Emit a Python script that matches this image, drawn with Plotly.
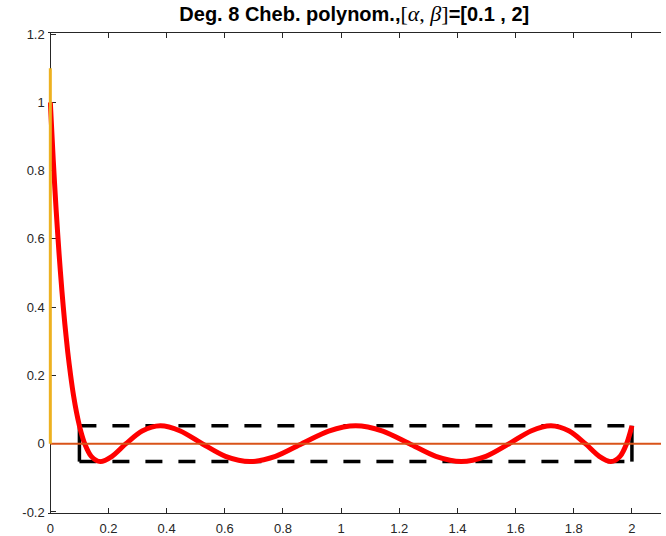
import plotly.graph_objects as go

# Curve samples (steep part, then oscillating part)
curve_x = [0.0, 0.01, 0.02, 0.03, 0.04, 0.05, 0.06, 0.07, 0.08, 0.09,
           0.1, 0.1046, 0.1183, 0.1409, 0.1723, 0.2122, 0.2601, 0.3156,
           0.3782, 0.4473, 0.5222, 0.6022, 0.6865, 0.7742, 0.8647, 0.9569,
           1.05, 1.1431, 1.2353, 1.3258, 1.4135, 1.4978, 1.5778, 1.6527,
           1.7218, 1.7844, 1.8399, 1.8878, 1.9277, 1.9591, 1.9817, 1.9954, 2.0]
curve_y = [1.0, 0.832, 0.685, 0.557, 0.446, 0.350, 0.268, 0.199, 0.140, 0.092,
           0.0525, 0.0371, 0.0, -0.0371, -0.0525, -0.0371, 0.0, 0.0371,
           0.0525, 0.0371, 0.0, -0.0371, -0.0525, -0.0371, 0.0, 0.0371,
           0.0525, 0.0371, 0.0, -0.0371, -0.0525, -0.0371, 0.0, 0.0371,
           0.0525, 0.0371, 0.0, -0.0371, -0.0525, -0.0371, 0.0, 0.0371, 0.0525]

# Bounding box of the equioscillation band
alpha, beta = 0.1, 2.0
band = 0.0525

# Reference lines
vline_x = [0.0, 0.0]
vline_y = [0.0, 1.1]
hline_x = [0.0, 2.1]
hline_y = [0.0, 0.0]

x_ticks = [0, 0.2, 0.4, 0.6, 0.8, 1, 1.2, 1.4, 1.6, 1.8, 2]
x_labels = ["0", "0.2", "0.4", "0.6", "0.8", "1", "1.2", "1.4", "1.6", "1.8", "2"]
y_ticks = [-0.2, 0, 0.2, 0.4, 0.6, 0.8, 1, 1.2]
y_labels = ["-0.2", "0", "0.2", "0.4", "0.6", "0.8", "1", "1.2"]

X_MIN, X_MAX = -0.008, 2.1
Y_MIN, Y_MAX = -0.203, 1.203

fig = go.Figure()

# dashed box: horizontal dashed sides, vertical solid sides
fig.add_trace(go.Scatter(x=[alpha, beta], y=[band, band], mode="lines",
                         line=dict(color="black", width=3.5, dash="17px,16px")))
fig.add_trace(go.Scatter(x=[alpha, beta], y=[-band, -band], mode="lines",
                         line=dict(color="black", width=3.5, dash="17px,16px")))
fig.add_trace(go.Scatter(x=[alpha, alpha], y=[-band, band], mode="lines",
                         line=dict(color="black", width=3.5)))
fig.add_trace(go.Scatter(x=[beta, beta], y=[-band, band], mode="lines",
                         line=dict(color="black", width=3.5)))

fig.add_trace(go.Scatter(x=curve_x, y=curve_y, mode="lines",
                         line=dict(color="#FF0000", width=5, shape="spline", smoothing=0.8)))

fig.add_trace(go.Scatter(x=hline_x, y=hline_y, mode="lines",
                         line=dict(color="#D95319", width=2)))
fig.add_trace(go.Scatter(x=vline_x, y=vline_y, mode="lines",
                         line=dict(color="#EDB120", width=3)))

tick_font = dict(family="Liberation Sans", size=13, color="#262626")
axis_common = dict(showgrid=False, zeroline=False, showline=True, linecolor="#262626",
                   linewidth=1, ticks="inside", ticklen=5, automargin=False,
                   tickcolor="#262626", tickwidth=1, layer="below traces",
                   tickfont=tick_font)

# position of x = 0 inside the plot width (so the left spine sits at x = 0)
y_axis_pos = (0 - X_MIN) / (X_MAX - X_MIN)

fig.update_layout(
    xaxis=dict(range=[X_MIN, X_MAX], tickvals=x_ticks, ticktext=x_labels,
               mirror="ticks", ticklabelstandoff=3, **axis_common),
    yaxis=dict(range=[Y_MIN, Y_MAX], tickvals=y_ticks, ticktext=y_labels,
               anchor="free", position=y_axis_pos, ticklabelstandoff=3, **axis_common),
    yaxis2=dict(range=[Y_MIN, Y_MAX], tickvals=y_ticks, showticklabels=False,
                overlaying="y", side="right", anchor="x", **axis_common),
)

title_text = ("<b>Deg. 8 Cheb. polynom.,</b>"
              "<span style='font-family:Liberation Serif;font-weight:normal;font-size:22px'>[<i>α</i>, <i>β</i>]</span>"
              "<b>=[0.1 , 2]</b>")

fig.update_layout(
    width=666, height=536,
    margin=dict(l=48.4, r=5.3, t=33, b=23),
    paper_bgcolor="white", plot_bgcolor="white",
    showlegend=False,
    title=dict(text=title_text, x=0.532, xanchor="center", y=0.974, yanchor="middle",
               font=dict(family="Liberation Sans", size=20, color="black")),
)

fig.write_html("out.html")
